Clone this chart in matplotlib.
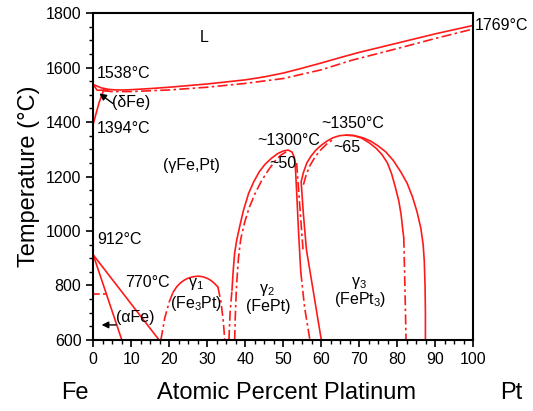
import numpy as np
import matplotlib
matplotlib.use('Agg')
import matplotlib.pyplot as plt

plt.rcParams['font.family'] = ['Liberation Sans', 'DejaVu Sans']
plt.rcParams['mathtext.fontset'] = 'custom'
plt.rcParams['mathtext.rm'] = 'Liberation Sans'
plt.rcParams['mathtext.default'] = 'regular'

RED = '#ff1a1a'
DASHDOT = (0, (6, 2, 1.5, 2))

# liquidus (solid) and solidus (dash-dot)
liq_x = [0, 2, 4, 6, 8, 10, 15, 20, 30, 40, 45, 50, 55, 60, 65, 70, 80, 90, 100]
liq_T = [1538, 1526, 1520, 1518, 1518, 1519, 1523, 1528, 1540, 1555, 1566, 1580, 1598, 1617, 1637, 1656, 1690, 1724, 1755]
sol_x = [2.5, 5, 10, 20, 30, 40, 50, 60, 68, 80, 90, 100]
sol_T = [1515, 1512, 1512, 1518, 1528, 1542, 1560, 1592, 1627, 1670, 1707, 1742]

# delta Fe region
delta1_x = [0, 1.5, 2.8]
delta1_T = [1394, 1470, 1520]
delta2_x = [0, 1.0, 3.8]
delta2_T = [1538, 1517, 1517]

# alpha / gamma boundaries
alpha1_x = [0, 7.5]
alpha1_T = [912, 600]
alpha2_x = [0, 17.3]
alpha2_T = [912, 600]
curie_x = [0, 3.4]
curie_T = [770, 770]

# gamma1 (Fe3Pt)
g1_left_x = [17.8, 18.8, 20.0, 21.0]
g1_left_T = [600, 680, 740, 775]
g1_top_x = [21.0, 22, 23, 24, 25, 26.3, 27.5, 28.8, 30, 31, 32, 32.8]
g1_top_T = [775, 796, 810, 820, 827, 832, 834, 832, 826, 818, 806, 794]
g1_right_x = [32.8, 33.6, 34.2, 34.6]
g1_right_T = [794, 740, 670, 600]

# gamma2 (FePt)
g2_outer_x = [36.5, 36.8, 37.2, 37.8, 38.5, 39.5, 40.9, 42.2, 43.7, 45.2, 46.8, 48.5, 50.0,
              51.3, 52.3, 52.9, 53.2, 53.6, 54.0, 54.6]
g2_outer_T = [783, 850, 920, 970, 1015, 1075, 1139, 1180, 1218, 1245, 1266, 1284, 1294,
              1297, 1290, 1270, 1230, 1120, 1000, 850]
g2_outer_low_x = [35.7, 36.0, 36.5]
g2_outer_low_T = [600, 700, 783]
g2_right_low_x = [54.6, 55.6, 57.0]
g2_right_low_T = [850, 720, 600]
g2_inner_x = [37.2, 37.4, 37.7, 38.2, 38.8, 39.8, 41.0, 42.6, 44.3, 46.1, 47.7, 49.3, 51.0]
g2_inner_T = [600, 700, 800, 900, 970, 1030, 1085, 1138, 1185, 1224, 1255, 1278, 1293]
g2_inner_r_x = [53.5, 54.3, 55.2]
g2_inner_r_T = [1250, 1100, 930]

# gamma3 (FePt3)
g3_outer_x = [60.0, 58.0, 56.1, 55.3, 54.7, 55.3, 56.2, 57.3, 58.5, 60.0, 61.5, 63.0, 64.8,
              66.5, 68.5, 71, 73, 75, 77, 79, 81, 82.6, 84, 85.2, 86.2, 86.8, 87.1, 87.3,
              87.4, 87.4]
g3_outer_T = [600, 770, 930, 1060, 1181, 1215, 1250, 1275, 1296, 1315, 1330, 1342, 1350,
              1352, 1351, 1342, 1330, 1312, 1290, 1258, 1215, 1175, 1125, 1070, 1010, 950,
              890, 800, 700, 600]
g3_inner_l_x = [55.3, 56.0, 57.0, 58.5, 60.0, 61.5, 63.5]
g3_inner_l_T = [1170, 1205, 1240, 1275, 1300, 1320, 1340]
g3_inner_r_x = [66.5, 68.5, 70.5, 72.5, 74.5, 76.0, 77.4, 78.5, 79.5, 80.4, 81.0, 81.4, 81.7]
g3_inner_r_T = [1352, 1350, 1342, 1325, 1303, 1280, 1250, 1210, 1160, 1110, 1060, 1010, 975]
g3_inner_low_x = [81.7, 82.0, 82.3]
g3_inner_low_T = [975, 800, 600]

fig = plt.figure(figsize=(5.33, 4.11), dpi=100)
ax = fig.add_axes([0.175, 0.173, 0.713, 0.795])

solid = [(liq_x, liq_T), (delta1_x, delta1_T), (delta2_x, delta2_T),
         (alpha1_x, alpha1_T), (alpha2_x, alpha2_T), (g1_top_x, g1_top_T),
         (g2_outer_x, g2_outer_T), (g3_outer_x, g3_outer_T), (g3_inner_r_x, g3_inner_r_T)]
dashdot = [(sol_x, sol_T), (g1_left_x, g1_left_T), (g1_right_x, g1_right_T),
           (g2_outer_low_x, g2_outer_low_T), (g2_right_low_x, g2_right_low_T),
           (g2_inner_x, g2_inner_T), (g2_inner_r_x, g2_inner_r_T),
           (g3_inner_l_x, g3_inner_l_T), (g3_inner_low_x, g3_inner_low_T)]

for x, T in solid:
    ax.plot(x, T, color=RED, lw=1.2, solid_joinstyle='round')
for x, T in dashdot:
    ax.plot(x, T, color=RED, lw=1.2, linestyle=DASHDOT)
ax.plot(curie_x, curie_T, color=RED, lw=1.2, linestyle=(0, (4, 2)))

ax.set_xlim(0, 100)
ax.set_ylim(600, 1800)
ax.set_xticks(np.arange(0, 101, 10))
ax.set_xticks(np.arange(0, 101, 2.5), minor=True)
ax.set_yticks(np.arange(600, 1801, 200))
ax.set_yticks(np.arange(600, 1801, 50), minor=True)
ax.tick_params(which='major', direction='out', length=5, width=1.2, labelsize=11.5)
ax.tick_params(which='minor', direction='out', length=3, width=1.0)
for s in ax.spines.values():
    s.set_linewidth(1.5)

ax.set_ylabel('Temperature (°C)', fontsize=17, labelpad=4)
fig.text(0.538, 0.044, 'Atomic Percent Platinum', fontsize=17, ha='center', va='center')
fig.text(0.14, 0.044, 'Fe', fontsize=17, ha='center', va='center')
fig.text(0.96, 0.044, 'Pt', fontsize=17, ha='center', va='center')

fs = 11.5
ax.text(29.2, 1712, 'L', fontsize=fs, ha='center', va='center')
ax.text(1.0, 1580, '1538°C', fontsize=fs, ha='left', va='center')
ax.text(4.9, 1473, '(δFe)', fontsize=fs, ha='left', va='center')
ax.text(1.0, 1378, '1394°C', fontsize=fs, ha='left', va='center')
ax.text(25.8, 1242, '(γFe,Pt)', fontsize=fs, ha='center', va='center')
ax.text(51.3, 1334, '~1300°C', fontsize=fs, ha='center', va='center')
ax.text(49.8, 1246, '~50', fontsize=fs, ha='center', va='center')
ax.text(68.3, 1393, '~1350°C', fontsize=fs, ha='center', va='center')
ax.text(66.7, 1308, '~65', fontsize=fs, ha='center', va='center')
ax.text(1.0, 967, '912°C', fontsize=fs, ha='left', va='center')
ax.text(8.3, 809, '770°C', fontsize=fs, ha='left', va='center')
ax.text(11.1, 683, '(αFe)', fontsize=fs, ha='center', va='center')
ax.text(27.0, 805, 'γ$_1$', fontsize=fs, ha='center', va='center')
ax.text(27.0, 735, '(Fe$_3$Pt)', fontsize=fs, ha='center', va='center')
ax.text(45.6, 783, 'γ$_2$', fontsize=fs, ha='center', va='center')
ax.text(46.1, 722, '(FePt)', fontsize=fs, ha='center', va='center')
ax.text(69.8, 809, 'γ$_3$', fontsize=fs, ha='center', va='center')
ax.text(70.2, 747, '(FePt$_3$)', fontsize=fs, ha='center', va='center')
ax.text(100.5, 1756, '1769°C', fontsize=fs, ha='left', va='center', clip_on=False)

arrow = dict(arrowstyle='-|>', color='black', lw=1.0, mutation_scale=10, shrinkA=0, shrinkB=0)
ax.annotate('', xy=(2.2, 655), xytext=(6.0, 655), arrowprops=arrow)
ax.annotate('', xy=(1.6, 1505), xytext=(5.2, 1468), arrowprops=arrow)

fig.savefig('out.png', dpi=100)
